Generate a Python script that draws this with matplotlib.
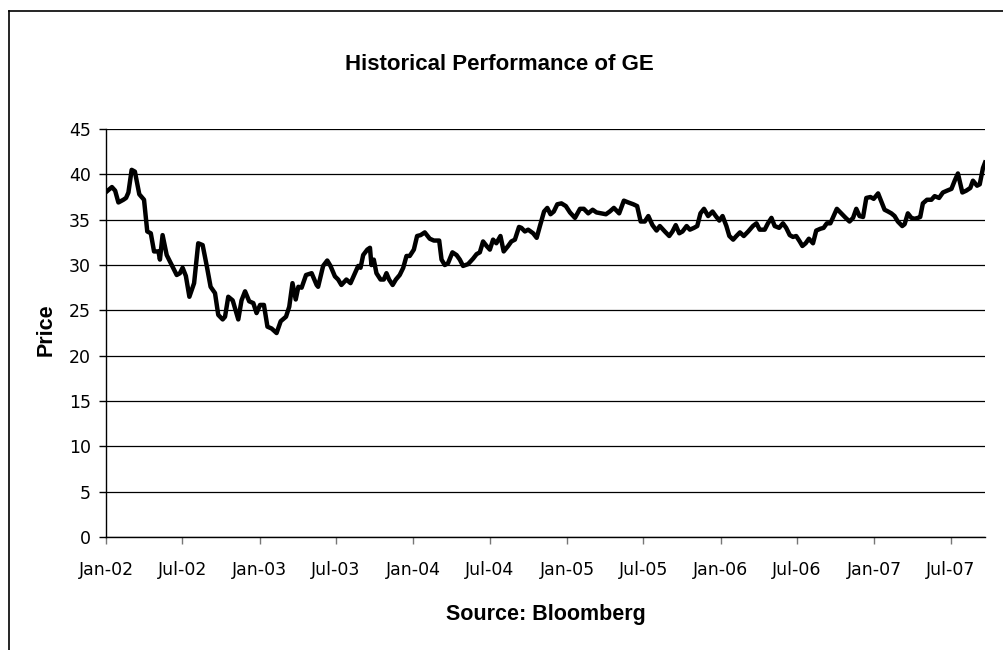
import matplotlib.pyplot as plt
import matplotlib.dates as mdates
from matplotlib.lines import Line2D
import numpy as np
import pandas as pd

# weekly closing prices: weeks since 1 Jan 2002, price in USD
weeks = [0.2, 2.0, 3.1, 4.2, 5.9, 6.8, 7.6, 8.7, 9.8, 11.3, 12.9, 14.0, 15.2, 16.3,
         17.8, 18.3, 19.2, 20.6, 22.3, 24.0, 25.1, 26.0, 27.1, 28.3, 29.9, 31.3,
         32.8, 34.2, 35.5, 37.0, 38.1, 39.6, 40.4, 41.5, 43.0, 44.9, 46.0, 47.2,
         48.6, 50.0, 51.1, 52.3, 53.6, 54.8, 56.2, 57.9, 59.3, 61.1, 62.2, 63.3,
         64.4, 65.3, 66.4, 67.9, 69.8, 71.5,
         72.0, 73.7, 75.1, 76.2, 77.7, 78.8, 79.9, 81.6, 83.0, 84.5, 85.6, 86.4,
         87.3, 88.7, 89.6, 90.1, 90.9, 91.8, 93.2, 94.3, 95.2, 96.1, 97.3, 98.4,
         99.7, 100.9, 102.0, 103.1, 104.5, 105.6, 106.8, 108.2, 109.9, 111.3,
         113.1, 113.9, 115.0, 116.1, 117.6, 119.0, 120.1, 121.2, 122.9, 124.6,
         125.8, 126.9, 128.0, 129.2, 130.3, 131.4, 132.5, 133.9, 135.0, 136.5,
         137.6, 138.8, 140.2, 141.0, 142.2, 143.3, 145.0,
         146.2, 147.3, 148.7, 149.8, 150.9, 152.0, 153.2, 154.6, 156.1, 157.5,
         159.2, 160.9, 162.2, 163.7, 165.2, 166.5, 168.2, 169.7, 171.0, 172.4,
         174.2, 175.8, 177.3, 179.0, 180.3, 181.5, 182.9, 184.1, 185.5, 186.9,
         188.0, 189.7, 191.2, 192.3, 193.4, 194.6, 195.7, 197.1, 198.2, 199.6,
         200.7, 201.8, 203.0, 204.4, 205.9, 207.0, 208.2, 209.3, 210.6, 211.6,
         212.9, 214.0, 215.2, 216.5, 218.0,
         219.6, 220.8, 221.9, 223.6, 224.7, 225.9, 227.0, 228.5, 229.8, 230.9,
         232.1, 233.2, 234.3, 235.5, 236.4, 237.5, 238.6, 240.0, 241.1, 242.5,
         243.6, 244.7, 245.9, 247.0, 248.1, 249.6, 251.1, 252.4, 253.6, 254.7,
         255.8, 257.0, 258.1, 259.5, 260.6, 262.1, 263.2, 264.3, 265.5, 266.6,
         267.7, 268.8, 270.3, 271.1, 272.2, 273.4, 274.5, 275.6, 276.4, 277.3,
         278.7, 280.2, 281.3, 282.8, 284.1, 285.5, 287.0, 288.1, 289.2, 290.7,
         292.0, 293.4, 294.3, 295.7, 296.6, 297.7, 298.4]
prices = [38.1, 38.6, 38.2, 36.9, 37.2, 37.4, 38.0, 40.5, 40.3, 37.8, 37.2, 33.7, 33.5, 31.5,
          31.5, 30.6, 33.3, 31.1, 30.0, 28.9, 29.1, 29.7, 28.8, 26.5, 28.0, 32.4,
          32.2, 29.9, 27.6, 26.9, 24.5, 24.0, 24.3, 26.5, 26.1, 24.0, 26.1, 27.1,
          26.0, 25.8, 24.7, 25.6, 25.6, 23.2, 23.0, 22.5, 23.8, 24.3, 25.4, 28.0,
          26.2, 27.6, 27.5, 28.9, 29.1, 27.8,
          27.6, 29.9, 30.5, 29.9, 28.75, 28.4, 27.8, 28.4, 28.0, 29.1, 29.9, 29.7,
          31.1, 31.7, 31.9, 30.0, 30.6, 29.1, 28.4, 28.4, 29.1, 28.4, 27.8, 28.4,
          28.9, 29.7, 31.0, 31.0, 31.7, 33.2, 33.3, 33.6, 32.9, 32.7,
          32.7, 30.6, 30.0, 30.2, 31.4, 31.1, 30.6, 29.9, 30.1, 30.7,
          31.2, 31.4, 32.6, 32.1, 31.7, 32.8, 32.4, 33.2, 31.5, 32.1,
          32.6, 32.8, 34.2, 34.1, 33.7, 33.9, 33.5,
          33.0, 34.3, 35.9, 36.3, 35.6, 35.9, 36.7, 36.8, 36.5, 35.8,
          35.2, 36.2, 36.2, 35.7, 36.1, 35.8, 35.7, 35.6, 35.9, 36.3,
          35.7, 37.1, 36.9, 36.7, 36.5, 34.8, 34.8, 35.4, 34.4, 33.8,
          34.3, 33.7, 33.2, 33.7, 34.4, 33.5, 33.7, 34.3, 33.9, 34.1,
          34.3, 35.7, 36.2, 35.4, 35.9, 35.4, 34.9, 35.4, 34.3, 33.2,
          32.8, 33.2, 33.6, 33.2, 33.7,
          34.3, 34.6, 33.9, 33.9, 34.6, 35.2, 34.3, 34.1, 34.6, 34.1,
          33.3, 33.1, 33.2, 32.6, 32.1, 32.4, 32.9, 32.4, 33.8, 34.0,
          34.1, 34.6, 34.6, 35.4, 36.2, 35.7, 35.2, 34.8, 35.2, 36.2,
          35.4, 35.3, 37.4, 37.5, 37.3, 37.9, 37.0, 36.1, 35.9, 35.7,
          35.4, 34.8, 34.3, 34.5, 35.7, 35.2, 35.1, 35.2, 35.3, 36.8,
          37.2, 37.2, 37.6, 37.4, 38.0, 38.2, 38.4, 39.3, 40.1, 38.0,
          38.2, 38.5, 39.3, 38.75, 38.9, 40.7, 41.3]

start = pd.Timestamp('2002-01-01')
dates = start + pd.to_timedelta(np.array(weeks) * 7, unit='D')

tick_dates = pd.date_range('2002-01-01', '2007-07-01', freq='6MS')
y_ticks = np.arange(0, 50, 5)

fig = plt.figure(figsize=(10.04, 6.5), dpi=100)
ax = fig.add_axes([0.1056, 0.1738, 0.8755, 0.6277])

ax.plot(dates, prices, color='black', lw=3.2, solid_joinstyle='round')

ax.set_xlim(start, dates[-1])
ax.set_ylim(0, 45)
ax.set_yticks(y_ticks)
ax.set_xticks(tick_dates)
ax.xaxis.set_major_formatter(mdates.DateFormatter('%b-%y'))

# horizontal gridlines only
ax.grid(axis='y', color='black', lw=0.9)
ax.set_axisbelow(True)
for side in ['top', 'right']:
    ax.spines[side].set_visible(False)
ax.spines['left'].set_linewidth(1.0)
ax.spines['bottom'].set_linewidth(1.0)

ax.tick_params(axis='both', direction='out', length=5, width=1.0, labelsize=12.5, pad=6)
ax.tick_params(axis='x', colors='#777777', labelcolor='black', pad=12)
for lbl in ax.get_xticklabels() + ax.get_yticklabels():
    lbl.set_family('DejaVu Sans')

fig.text(0.497, 0.900, 'Historical Performance of GE', ha='center', va='center',
         fontsize=16, fontweight='bold', family='Liberation Sans')
fig.text(0.046, 0.493, 'Price', ha='center', va='center', rotation=90,
         fontsize=15.5, fontweight='bold', family='Liberation Sans')
fig.text(0.5435, 0.055, 'Source: Bloomberg', ha='center', va='center',
         fontsize=15.5, fontweight='bold', family='Liberation Sans')

# outer chart frame (only left and top edges are visible in the crop)
fig.add_artist(Line2D([0.009, 0.009], [0.0, 0.983], color='black', lw=1.2, transform=fig.transFigure))
fig.add_artist(Line2D([0.009, 1.0], [0.983, 0.983], color='black', lw=1.2, transform=fig.transFigure))

fig.savefig('out.png', dpi=100)
